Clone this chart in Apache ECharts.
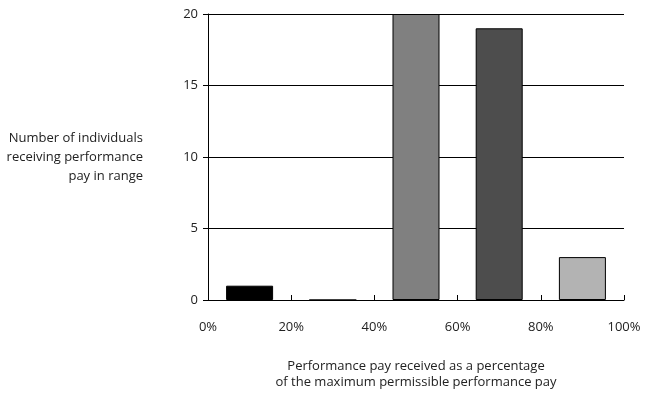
<!DOCTYPE html>
<html><head><meta charset="utf-8">
<script src="https://cdn.jsdelivr.net/npm/echarts@6/dist/echarts.min.js"></script>
<style>html,body{margin:0;padding:0;background:#fff}#c{width:645px;height:395px}</style>
</head><body><div id="c"></div>
<script>
const binCenters = [10, 30, 50, 70, 90];
const counts = [1, 0, 20, 19, 3];
const barColors = ['#000000', '#ffffff', '#808080', '#4d4d4d', '#b3b3b3'];
const yTicks = [0, 5, 10, 15, 20];
const yTitle = 'Number of individuals\nreceiving performance\npay in range';
const xTitle = 'Performance pay received as a percentage\nof the maximum permissible performance pay';

const chart = echarts.init(document.getElementById('c'), null, {renderer: 'canvas'});
const font = 'Open Sans';
chart.setOption({
  animation: false,
  textStyle: {fontFamily: font},
  grid: {left: 208, right: 21, top: 14, bottom: 95},
  xAxis: {
    type: 'value', min: 0, max: 100, interval: 20,
    axisLine: {show: true, lineStyle: {color: '#000', width: 1}},
    axisTick: {show: true, inside: true, length: 5, lineStyle: {color: '#000'}},
    axisLabel: {formatter: '{value}%', color: '#222', fontSize: 13, margin: 21, fontFamily: font},
    splitLine: {show: false}
  },
  yAxis: {
    type: 'value', min: 0, max: 20, interval: 5,
    axisLine: {show: true, lineStyle: {color: '#000', width: 1}},
    axisTick: {show: true, inside: false, length: 5, lineStyle: {color: '#000'}},
    axisLabel: {color: '#222', fontSize: 13, margin: 10, fontFamily: font, padding: [6, 0, 0, 0]},
    splitLine: {show: true, lineStyle: {color: '#000', width: 1}}
  },
  series: [{
    type: 'bar',
    barWidth: 47,
    data: binCenters.map((x, i) => ({
      value: [x, counts[i]],
      itemStyle: {color: barColors[i], borderColor: '#000', borderWidth: 1}
    }))
  }],
  graphic: [
    {type: 'text', right: 645 - 143, top: 129,
     style: {text: yTitle, textAlign: 'right', fill: '#222', font: '13px "Open Sans"', lineHeight: 19}},
    {type: 'text', x: 416, y: 358,
     style: {text: xTitle, textAlign: 'center', fill: '#222', font: '13px "Open Sans"', lineHeight: 16}}
  ]
});
</script></body></html>
